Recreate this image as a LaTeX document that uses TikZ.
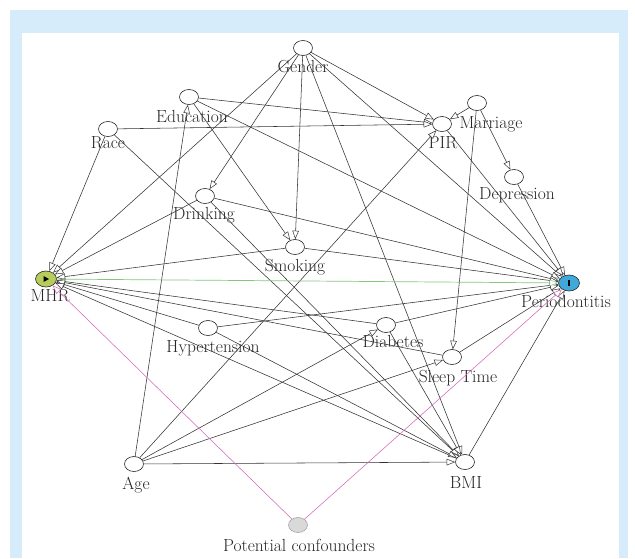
\documentclass[tikz,border=0pt]{standalone}
\usetikzlibrary{shapes.geometric,arrows.meta}
\definecolor{bluebg}{HTML}{D6ECFA}
\definecolor{mhrgreen}{HTML}{B7CC5A}
\definecolor{perioblue}{HTML}{3FA9D9}
\definecolor{pinkline}{HTML}{D46AB8}
\definecolor{greenline}{HTML}{86C77E}
\definecolor{edgegray}{HTML}{333333}
\begin{document}
\begin{tikzpicture}[x=1pt,y=-1pt,
  vnode/.style={ellipse, draw=black!85, fill=white, minimum width=19pt, minimum height=15pt, inner sep=0pt, line width=0.6pt},
  lbl/.style={font=\fontsize{17.5}{20}\selectfont, text=black!85, inner sep=0pt},
  edge/.style={draw=edgegray, line width=0.55pt, -{Triangle[fill=white,length=8.5pt,width=6.5pt,line width=0.5pt]}},
  pedge/.style={edge, draw=pinkline, -{Triangle[fill=white,length=8.5pt,width=6.5pt,line width=0.5pt]}},
  gedge/.style={edge, draw=greenline, line width=0.7pt}]
\useasboundingbox (0,0) rectangle (635,558);
\fill[bluebg] (10,10) rectangle (628,558);
\fill[white] (22,33) rectangle (619,558);
% nodes
\node[vnode] (gender) at (303,48) {};
\node[vnode] (educ) at (189,97) {};
\node[vnode] (race) at (108,129) {};
\node[vnode] (pir) at (442,124) {};
\node[vnode] (marr) at (477,103) {};
\node[vnode] (depr) at (514,177) {};
\node[vnode] (drink) at (205,196) {};
\node[vnode] (smok) at (295,247) {};
\node[vnode, fill=mhrgreen, minimum width=21pt, minimum height=16pt] (mhr) at (46,279) {};
\node[vnode, fill=perioblue, minimum width=21pt, minimum height=16pt] (perio) at (569,283) {};
\node[vnode] (hyper) at (208,328) {};
\node[vnode] (diab) at (386,325) {};
\node[vnode] (sleep) at (452,357) {};
\node[vnode] (age) at (134,464) {};
\node[vnode] (bmi) at (465,462) {};
\node[vnode, fill=black!15, draw=black!35] (conf) at (298,525) {};
% symbols in exposure / outcome
\fill[black] ([xshift=-2.5pt,yshift=-3pt]mhr.center) -- ([xshift=3pt]mhr.center) -- ([xshift=-2.5pt,yshift=3pt]mhr.center) -- cycle;
\draw[black, line width=1.2pt] ([yshift=-3pt]perio.center) -- ([yshift=3pt]perio.center);
% labels
\node[lbl] (genderL) at (303,67) {Gender};
\node[lbl] (educL) at (192,116) {Education};
\node[lbl] (raceL) at (108,143) {Race};
\node[lbl] (pirL) at (443,143) {PIR};
\node[lbl] (marrL) at (491,124) {Marriage};
\node[lbl] (deprL) at (517,195) {Depression};
\node[lbl] (drinkL) at (204,215) {Drinking};
\node[lbl] (smokL) at (295,267) {Smoking};
\node[lbl] (mhrL) at (50,296) {MHR};
\node[lbl] (perioL) at (566,301) {Periodontitis};
\node[lbl] (hyperL) at (213,348) {Hypertension};
\node[lbl] (diabL) at (393,341) {Diabetes};
\node[lbl] (sleepL) at (458,378) {Sleep Time};
\node[lbl] (ageL) at (136,485) {Age};
\node[lbl] (bmiL) at (466,483) {BMI};
\node[lbl] (confL) at (299,545) {Potential confounders};
% edges
\foreach \a/\b in {gender/mhr, gender/drink, gender/smok, gender/bmi, gender/perio, gender/pir,
  educ/pir, educ/perio, educ/smok,
  race/mhr, race/pir, race/bmi,
  age/educ, age/pir, age/diab, age/sleep, age/bmi,
  marr/pir, marr/depr, marr/sleep,
  depr/perio, pir/perio,
  drink/mhr, drink/perio, drink/bmi,
  smok/mhr, smok/perio,
  hyper/mhr, hyper/perio, hyper/bmi,
  diab/mhr, diab/perio, diab/bmi,
  sleep/mhr, sleep/perio,
  bmi/mhr, bmi/perio}
  \draw[edge] (\a) -- (\b);
\draw[gedge] (mhr) -- (perio);
\draw[pedge] (conf) -- (mhr);
\draw[pedge] (conf) -- (perio);
\end{tikzpicture}
\end{document}
